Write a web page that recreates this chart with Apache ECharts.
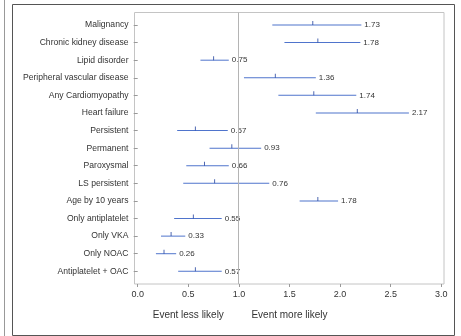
<!DOCTYPE html>
<html>
<head>
<meta charset="utf-8">
<script src="https://cdn.jsdelivr.net/npm/echarts@6/dist/echarts.min.js"></script>
<style>
  html, body { margin: 0; padding: 0; background: #fff; }
  #chart { width: 461px; height: 336px; }
</style>
</head>
<body>
<div id="chart"></div>
<script>
// forest plot: odds ratio with confidence interval per factor
const categories = [
  "Malignancy", "Chronic kidney disease", "Lipid disorder", "Peripheral vascular disease",
  "Any Cardiomyopathy", "Heart failure", "Persistent", "Permanent", "Paroxysmal",
  "LS persistent", "Age by 10 years", "Only antiplatelet", "Only VKA", "Only NOAC",
  "Antiplatelet + OAC"
];
const estimates = [1.73, 1.78, 0.75, 1.36, 1.74, 2.17, 0.57, 0.93, 0.66, 0.76, 1.78, 0.55, 0.33, 0.26, 0.57];
const lowerCI = [1.33, 1.45, 0.62, 1.05, 1.39, 1.76, 0.39, 0.71, 0.48, 0.45, 1.60, 0.36, 0.23, 0.18, 0.40];
const upperCI = [2.21, 2.20, 0.90, 1.76, 2.16, 2.68, 0.89, 1.22, 0.90, 1.30, 1.98, 0.83, 0.47, 0.38, 0.83];
const xSideLabels = { 0.5: "Event less likely", 1.5: "Event more likely" };

const chart = echarts.init(document.getElementById("chart"));

const font = "Liberation Sans, Arial, sans-serif";
// interval bars are drawn as a transparent offset + visible span
const ciSpan = upperCI.map((u, i) => +(u - lowerCI[i]).toFixed(3));
const estPoints = estimates.map((e, i) => [e, i]);

const options = {
  animation: false,
  textStyle: { fontFamily: font },
  graphic: [
    { type: "line", shape: { x1: 4.5, y1: 0, x2: 4.5, y2: 336 }, style: { stroke: "#999", lineWidth: 1 } },
    { type: "rect", shape: { x: 12.5, y: 4.5, width: 442, height: 331 }, style: { fill: "none", stroke: "#555", lineWidth: 1 } }
  ],
  grid: [
    // data area
    { left: 137.7, right: 19.7, top: 16.2, bottom: 55.9 },
    // plot frame
    { left: 134.5, right: 17, top: 12.5, bottom: 52, show: true, borderColor: "#c4c4c4", borderWidth: 1 }
  ],
  xAxis: [
    {
      type: "value", gridIndex: 0, min: 0, max: 3, interval: 0.5, offset: 3.9,
      splitLine: { show: false },
      axisLine: { show: false },
      axisTick: { show: true, length: 3, lineStyle: { color: "#999" } },
      axisLabel: { color: "#333", fontSize: 9, margin: 6, formatter: v => v.toFixed(1) }
    },
    {
      type: "value", gridIndex: 0, min: 0, max: 3, interval: 0.5, position: "bottom", offset: 22,
      splitLine: { show: false }, axisLine: { show: false }, axisTick: { show: false },
      axisLabel: { color: "#333", fontSize: 10, formatter: v => xSideLabels[v] || "" }
    },
    {
      type: "value", gridIndex: 1, min: -0.03, max: 3.03, show: false
    }
  ],
  yAxis: [
    {
      type: "category", gridIndex: 0, data: categories, inverse: true, offset: 3.2,
      axisLine: { show: false },
      axisTick: { show: true, alignWithLabel: true, length: 4, lineStyle: { color: "#999" } },
      axisLabel: { color: "#333", fontSize: 8.6, margin: 6 }
    },
    { type: "value", gridIndex: 1, min: 0, max: 1, show: false }
  ],
  series: [
    {
      type: "bar", stack: "ci", xAxisIndex: 0, yAxisIndex: 0,
      data: lowerCI, barWidth: 1, silent: true,
      itemStyle: { color: "rgba(0,0,0,0)" }
    },
    {
      type: "bar", stack: "ci", xAxisIndex: 0, yAxisIndex: 0,
      data: ciSpan, barWidth: 1, silent: true,
      itemStyle: { color: "#4f74cc" },
      label: {
        show: true, position: "right", distance: 3, color: "#333", fontSize: 8,
        formatter: p => estimates[p.dataIndex].toFixed(2)
      }
    },
    {
      type: "scatter", xAxisIndex: 0, yAxisIndex: 0,
      data: estPoints, silent: true,
      symbol: "rect", symbolSize: [1, 4], symbolOffset: [0, -2],
      itemStyle: { color: "#23429e" }
    },
    {
      type: "line",
      xAxisIndex: 2, yAxisIndex: 1,
      data: [],
      markLine: {
        silent: true, symbol: "none", label: { show: false },
        lineStyle: { color: "#b4b4b4", width: 1, type: "solid" },
        data: [{ xAxis: 1 }]
      }
    }
  ]
};

chart.setOption(options);
</script>
</body>
</html>
